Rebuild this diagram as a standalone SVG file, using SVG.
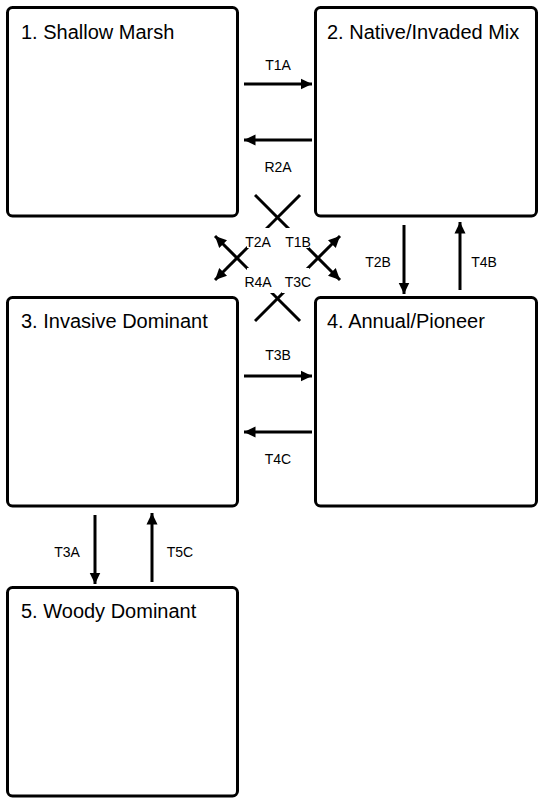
<svg xmlns="http://www.w3.org/2000/svg" width="544" height="799" viewBox="0 0 544 799">
<style>
.box{fill:#fff;stroke:#000;stroke-width:3}
.title{font-family:"Liberation Sans",Arial,sans-serif;font-size:20px;fill:#000}
.lbl{font-family:"Liberation Sans",Arial,sans-serif;font-size:14px;fill:#000;text-anchor:middle}
.conn{stroke:#000;stroke-width:3;fill:none;marker-end:url(#ah)}
.mask{fill:#fff;stroke:none}
</style>
<defs>
<marker id="ah" markerUnits="userSpaceOnUse" markerWidth="12" markerHeight="12" viewBox="0 0 12 12" refX="11.5" refY="6" orient="auto">
<path d="M0,0.5 L11.5,6 L0,11.5 Z" fill="#000"/>
</marker>
</defs>
<rect width="544" height="799" fill="#fff"/>
<g id="node1"><rect class="box" x="7.5" y="7.5" width="230" height="208.5" rx="5"/><text class="title" x="21" y="39">1. Shallow Marsh</text></g>
<g id="node2"><rect class="box" x="315.5" y="7.5" width="221" height="208.5" rx="5"/><text class="title" x="327" y="39">2. Native/Invaded Mix</text></g>
<g id="node3"><rect class="box" x="7.5" y="297.5" width="230" height="208.5" rx="5"/><text class="title" x="21" y="328">3. Invasive Dominant</text></g>
<g id="node4"><rect class="box" x="315.5" y="297.5" width="221" height="208.5" rx="5"/><text class="title" x="327" y="328">4. Annual/Pioneer</text></g>
<g id="node5"><rect class="box" x="7.5" y="587.5" width="230" height="208.5" rx="5"/><text class="title" x="21" y="618">5. Woody Dominant</text></g>
<g id="connectors">
<line class="conn" x1="244" y1="84" x2="312" y2="84"/>
<line class="conn" x1="312" y1="140" x2="244" y2="140"/>
<line class="conn" x1="244" y1="376" x2="312" y2="376"/>
<line class="conn" x1="312" y1="432" x2="244" y2="432"/>
<line class="conn" x1="404" y1="225" x2="404" y2="294"/>
<line class="conn" x1="460" y1="290" x2="460" y2="222"/>
<line class="conn" x1="95" y1="515" x2="95" y2="584"/>
<line class="conn" x1="152" y1="582" x2="152" y2="513"/>
<line class="conn" x1="255" y1="195" x2="340" y2="280"/>
<line class="conn" x1="300" y1="195" x2="215" y2="280"/>
<line class="conn" x1="255" y1="321" x2="340" y2="236"/>
<line class="conn" x1="300" y1="321" x2="215" y2="236"/>
<rect class="mask" x="286" y="228" width="23" height="20"/>
<rect class="mask" x="247" y="228" width="22" height="20"/>
<rect class="mask" x="247" y="268" width="27" height="25"/>
<rect class="mask" x="282" y="268" width="27" height="25"/>
<text class="lbl" x="278" y="70">T1A</text>
<text class="lbl" x="278" y="172">R2A</text>
<text class="lbl" x="278" y="360">T3B</text>
<text class="lbl" x="278" y="464">T4C</text>
<text class="lbl" x="378" y="267">T2B</text>
<text class="lbl" x="484" y="267">T4B</text>
<text class="lbl" x="67" y="557">T3A</text>
<text class="lbl" x="180" y="557">T5C</text>
<text class="lbl" x="258" y="247">T2A</text>
<text class="lbl" x="298" y="247">T1B</text>
<text class="lbl" x="258" y="287">R4A</text>
<text class="lbl" x="298" y="287">T3C</text>
</g>
</svg>
